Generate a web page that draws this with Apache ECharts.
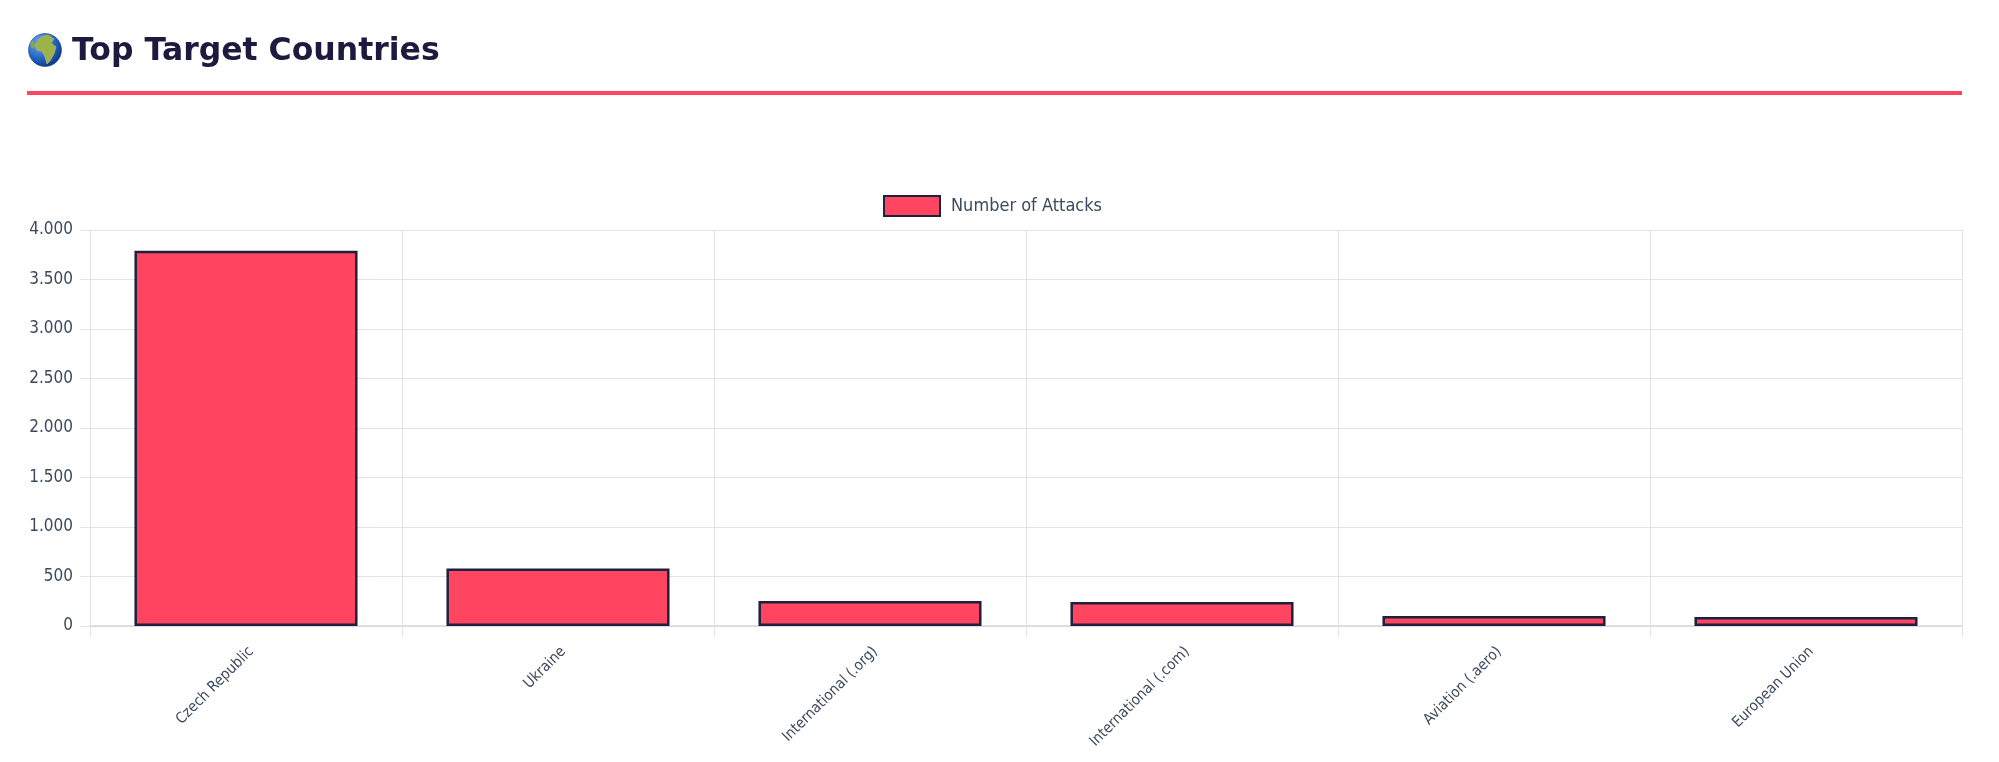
<!DOCTYPE html>
<html>
<head>
<meta charset="utf-8">
<title>Top Target Countries</title>
<script src="https://cdn.jsdelivr.net/npm/echarts@6/dist/echarts.min.js"></script>
<style>
  html, body { margin: 0; padding: 0; background: #ffffff; }
  #chart { width: 1999px; height: 762px; }
</style>
</head>
<body>
<div id="chart"></div>
<script>
// data
var categories = ['Czech Republic', 'Ukraine', 'International (.org)', 'International (.com)', 'Aviation (.aero)', 'European Union'];
var attacks = [3790, 580, 252, 242, 100, 90];
var seriesName = 'Number of Attacks';
var titleText = 'Top Target Countries';

var FONT = '"DejaVu Sans Condensed", "DejaVu Sans", sans-serif';
var LABEL = '#3b4a5e';
var GRID = '#e3e3e3';
var RED = '#ff4560';
var NAVY = '#1e2040';

// thousands separator as in the picture (4.000)
function fmt(v) {
    return String(v).replace(/\B(?=(\d{3})+(?!\d))/g, '.');
}

var chart = echarts.init(document.getElementById('chart'));
chart.setOption({
    backgroundColor: '#ffffff',
    animation: false,
    textStyle: { fontFamily: FONT },
    graphic: [
        // little globe in front of the heading
        {
            type: 'circle', shape: { cx: 45, cy: 50, r: 16.5 },
            style: {
                fill: new echarts.graphic.RadialGradient(0.35, 0.3, 0.8, [
                    { offset: 0, color: '#6fb0f0' },
                    { offset: 0.6, color: '#1f5fc0' },
                    { offset: 1, color: '#0c2f78' }
                ]),
                stroke: '#0c2f78', lineWidth: 0.5
            }
        },
        {
            type: 'polygon',
            shape: { points: [[41, 37], [48, 35], [54, 39], [51, 43], [56, 47], [54, 54], [50, 61], [47, 64], [45, 57], [42, 51], [37, 50], [35, 45], [38, 41]] },
            style: { fill: '#9bb34a', stroke: '#c8b85a', lineWidth: 0.6 }
        },
        {
            type: 'polygon',
            shape: { points: [[30, 43], [33, 40], [35, 46], [32, 49]] },
            style: { fill: '#8aa844' }
        },
        {
            type: 'text', left: 72, top: 36,
            style: {
                text: titleText, fill: '#1c1b3f',
                font: 'bold 31.5px "DejaVu Sans", sans-serif'
            }
        },
        {
            type: 'line', shape: { x1: 27, y1: 93, x2: 1962, y2: 93 },
            style: { stroke: RED, lineWidth: 4 }
        }
    ],
    legend: {
        left: 878, top: 190,
        icon: 'rect',
        itemWidth: 56, itemHeight: 20,
        itemGap: 10,
        textStyle: { color: LABEL, fontSize: 18, fontFamily: FONT, padding: [0, 0, 0, 6] },
        data: [seriesName]
    },
    grid: {
        left: 90, right: 37, top: 230, bottom: 136,
        containLabel: false,
        outerBoundsMode: 'none'
    },
    xAxis: {
        type: 'category',
        data: categories,
        boundaryGap: true,
        axisLine: { lineStyle: { color: '#d6d6d6', width: 1.5 } },
        axisTick: { show: true, length: 11, interval: 0, lineStyle: { color: GRID } },
        splitLine: { show: true, interval: 0, lineStyle: { color: GRID } },
        axisLabel: {
            interval: 0, rotate: 45, margin: 18,
            verticalAlign: 'top',
            color: LABEL, fontSize: 15, fontFamily: FONT
        }
    },
    yAxis: {
        type: 'value',
        min: 0, max: 4000, interval: 500,
        axisLine: { show: true, lineStyle: { color: GRID } },
        axisTick: { show: true, length: 10, lineStyle: { color: GRID } },
        splitLine: { show: true, lineStyle: { color: GRID } },
        axisLabel: {
            margin: 17, color: LABEL, fontSize: 17, fontFamily: FONT,
            formatter: fmt
        }
    },
    series: [{
        name: seriesName,
        type: 'bar',
        data: attacks,
        barCategoryGap: '28.5%',
        itemStyle: { color: RED, borderColor: NAVY, borderWidth: 2.5 }
    }]
});
</script>
</body>
</html>
